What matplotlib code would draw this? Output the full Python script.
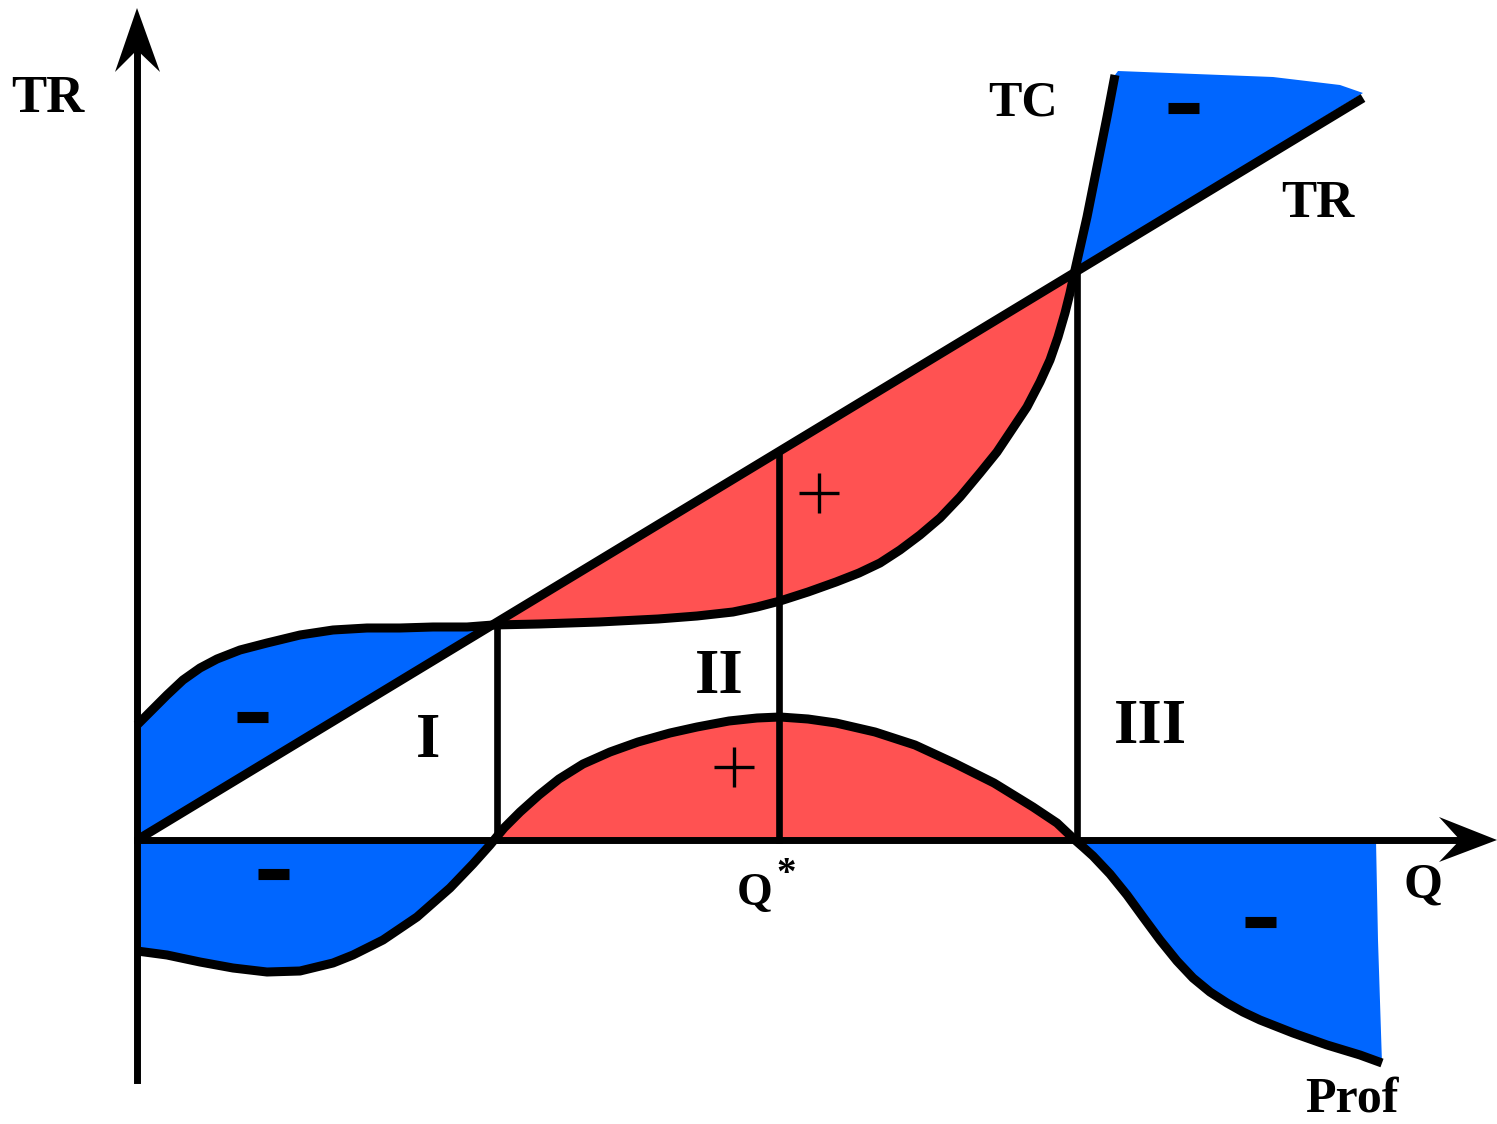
import numpy as np
import matplotlib
matplotlib.use("Agg")
import matplotlib.pyplot as plt
from matplotlib.patches import Polygon

# units: Q along the axis, value up (origin = axes crossing)
tc_q = [0, 13, 30, 46, 63, 80, 103, 130, 163, 196, 230, 263, 296, 330, 356, 402,
        462, 521, 560, 596, 620, 643, 671, 699, 722, 743, 763, 783, 803, 823, 843,
        860, 876, 890, 903, 913, 921, 928, 933, 938, 950, 960, 970, 978]
tc_v = [115, 128, 145, 160, 172, 181, 190, 197, 205, 210, 212, 212, 213, 213, 215, 216,
        218, 221, 224, 228, 233, 239, 248, 258, 267, 277, 290, 305, 322, 343, 367,
        388, 412, 433, 458, 480, 503, 527, 547, 570, 623, 673, 723, 765]

tr_q = [0, 1226]
tr_v = [0, 742]

prof_q = [0, 30, 63, 96, 130, 163, 196, 216, 246, 280, 313, 336, 353, 367, 383, 402,
          422, 446, 473, 501, 533, 560, 592, 620, 643, 671, 699, 738, 778, 817, 857,
          896, 920, 938, 946, 956, 973, 990, 1006, 1023, 1040, 1056, 1073, 1090, 1106,
          1123, 1156, 1190, 1223, 1245]
prof_v = [-111, -115, -122, -128, -132, -131, -123, -115, -100, -77, -48, -24, -5, 12, 28, 45,
          61, 76, 88, 98, 107, 113, 119, 122, 123, 121, 117, 108, 95, 77, 57,
          33, 17, 0, -7, -16, -34, -55, -77, -100, -121, -138, -152, -163, -172,
          -180, -193, -205, -215, -223]

# top edge of the loss area above TR (no outline)
top_q = [981, 1136, 1203, 1226]
top_v = [769, 763, 755, 747]
# right edge of the loss area under the Q axis
edge_q = [1241, 1239]
edge_v = [-100, 0]

q1, q_star, q2 = 360, 642, 940

minus_q = [115, 136, 1046, 1123]
minus_v = [123, -34, 732, -82]
plus_q = [682, 597]
plus_v = [347, 73]

BLUE = "#0066ff"
RED = "#ff5252"
FONT = "Liberation Serif"

fig = plt.figure(figsize=(14.97, 11.24), dpi=100)
ax = fig.add_axes([0, 0, 1, 1])
ax.set_xlim(-137, 1360)
ax.set_ylim(-284, 840)
ax.axis("off")

tc = np.column_stack([tc_q, tc_v])
pr = np.column_stack([prof_q, prof_v])
i1 = tc_q.index(356)
i2 = tc_q.index(938)
j2 = prof_q.index(938)

# fills (profit sign change sits between the 336 and 367 samples)
ax.add_patch(Polygon(np.vstack([tc[:i1 + 1], [[0, 0]]]), fc=BLUE, ec="none", zorder=1))
ax.add_patch(Polygon(tc[i1:i2 + 1], fc=RED, ec="none", zorder=1))
ax.add_patch(Polygon(np.vstack([tc[i2:], np.column_stack([top_q, top_v])]),
                     fc=BLUE, ec="none", zorder=1))
neg = pr[:, 1] <= 0
left = pr[:prof_q.index(353) + 1]
ax.add_patch(Polygon(np.vstack([left, [[357, 0], [0, 0]]]), fc=BLUE, ec="none", zorder=1))
ax.add_patch(Polygon(np.vstack([[[357, 0]], pr[prof_q.index(367):j2 + 1]]),
                     fc=RED, ec="none", zorder=1))
ax.add_patch(Polygon(np.vstack([pr[j2:], np.column_stack([edge_q, edge_v])]),
                     fc=BLUE, ec="none", zorder=1))

# curves
kw = dict(color="black", lw=6.5, solid_joinstyle="round", zorder=3)
ax.plot(tc_q, tc_v, solid_capstyle="butt", **kw)
ax.plot(tr_q, tr_v, solid_capstyle="butt", **kw)
ax.plot(prof_q, prof_v, solid_capstyle="butt", **kw)

# vertical guides
tr_slope = tr_v[1] / tr_q[1]
for q, top in [(q1, np.interp(q1, tc_q, tc_v)), (q_star, tr_slope * q_star),
               (q2, tr_slope * q2)]:
    ax.plot([q, q], [0, top], color="black", lw=4.8, zorder=2)

# axes with notched arrow heads
ax.plot([0, 0], [-240, 790], color="black", lw=5, zorder=4)
ax.plot([0, 1330], [0, 0], color="black", lw=5, zorder=4)
ax.add_patch(Polygon([[0, 832], [-22, 768], [0, 790], [23, 768]], fc="black", ec="none", zorder=4))
ax.add_patch(Polygon([[1360, 0], [1302, 23], [1323, 0], [1302, -22]], fc="black", ec="none", zorder=4))

# signs
for x, y in zip(minus_q, minus_v):
    ax.plot([x - 15.5, x + 15.5], [y, y], color="black", lw=8, solid_capstyle="butt", zorder=5)
ax.plot(plus_q, plus_v, ls="none", marker="+", ms=29, mew=2.4, color="black", zorder=5)

# labels
tk = dict(family=FONT, weight="bold", color="black", ha="center", va="baseline", zorder=6)
ax.text(-89, 728, "TR", fontsize=38, **tk)
ax.text(886, 725, "TC", fontsize=36, **tk)
ax.text(1181, 623, "TR", fontsize=38, **tk)
ax.text(1286, -58, "Q", fontsize=36, **tk)
ax.text(618, -65, "Q", fontsize=33, **tk)
ax.text(649, -44, "*", fontsize=28, **tk)
ax.text(1215, -272, "Prof", fontsize=36, **tk)
ax.text(291, 83, "I", fontsize=45, **tk)
ax.text(582, 147, "II", fontsize=45, **tk)
ax.text(1013, 97, "III", fontsize=45, **tk)

fig.savefig("out.png", dpi=100)
